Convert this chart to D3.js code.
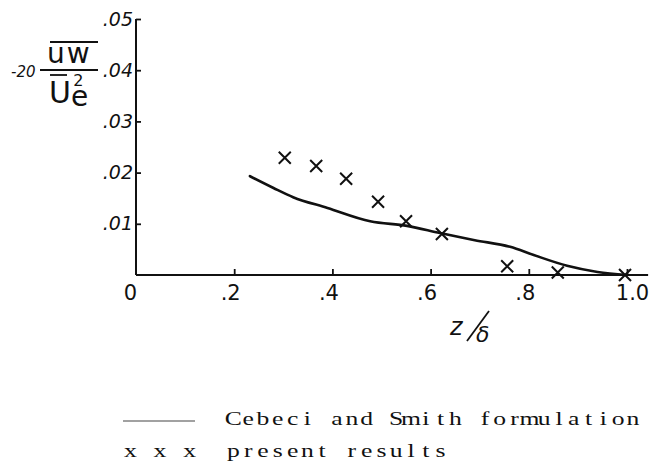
<!DOCTYPE html>
<html>
<head>
<meta charset="utf-8">
<script src="https://cdn.jsdelivr.net/npm/d3@7/dist/d3.min.js"></script>
<style>
  html, body { margin: 0; padding: 0; background: #fff; }
  svg { display: block; }
</style>
</head>
<body>
<script>
// Shear stress profile: -20 uw / Ue^2 against z/delta
const xTicks = [0, 0.2, 0.4, 0.6, 0.8, 1.0];
const xTickLabels = ["0", ".2", ".4", ".6", ".8", "1.0"];
const yTicks = [0.01, 0.02, 0.03, 0.04, 0.05];
const yTickLabels = [".01", ".02", ".03", ".04", ".05"];

// Cebeci and Smith formulation (solid curve)
const modelZ = [0.232, 0.28, 0.32, 0.39, 0.477, 0.552, 0.619, 0.69, 0.762, 0.81, 0.878, 0.94, 1.0];
const modelV = [0.0193, 0.0170, 0.0152, 0.0131, 0.0105, 0.0096, 0.0082, 0.0068, 0.0055, 0.0039, 0.0018, 0.0006, 0.0];

// present results (crosses)
const presZ = [0.303, 0.367, 0.428, 0.493, 0.55, 0.623, 0.756, 0.859, 0.996];
const presV = [0.0229, 0.0213, 0.0188, 0.0143, 0.0105, 0.0080, 0.0017, 0.0005, 0.0];

// legend entries
const legendKeys = ["", "x x x"];
const legendLabels = ["Cebeci and Smith formulation", "present results"];

const W = 654, H = 464;
const ink = "#111";
const svg = d3.select("body").append("svg").attr("width", W).attr("height", H)
  .style("background", "#fff");

const x = d3.scaleLinear().domain([0, 1]).range([136, 627]);
const y = d3.scaleLinear().domain([0, 0.05]).range([275, 19]);

const handFont = "'DejaVu Sans', sans-serif";

// axis lines
svg.append("line").attr("x1", x(0)).attr("x2", x(0)).attr("y1", y(0)).attr("y2", y(0.05))
  .attr("stroke", ink).attr("stroke-width", 2);
svg.append("line").attr("x1", x(0)).attr("x2", x(1.043)).attr("y1", y(0)).attr("y2", y(0))
  .attr("stroke", ink).attr("stroke-width", 2);

// y axis ticks and labels
const yAxis = d3.axisLeft(y).tickValues(yTicks)
  .tickFormat((d, i) => yTickLabels[i]).tickSize(-5).tickSizeOuter(0).tickPadding(3);
const gy = svg.append("g").attr("transform", `translate(${x(0)},0)`).call(yAxis);
gy.select(".domain").remove();
gy.selectAll(".tick line").attr("stroke", ink).attr("stroke-width", 1.8);
gy.selectAll(".tick text").attr("fill", ink).style("font-family", handFont)
  .style("font-size", "19px").attr("font-style", "italic");

// x axis ticks and labels
const xAxis = d3.axisBottom(x).tickValues(xTicks)
  .tickFormat((d, i) => xTickLabels[i]).tickSize(-6).tickSizeOuter(0).tickPadding(10);
const gx = svg.append("g").attr("transform", `translate(0,${y(0)})`).call(xAxis);
gx.select(".domain").remove();
gx.selectAll(".tick line").attr("stroke", ink).attr("stroke-width", 1.8)
  .filter(d => d === 0).remove();
gx.selectAll(".tick text").attr("fill", ink).style("font-family", handFont)
  .style("font-size", "21px").attr("x", d => (d === 0 ? -6 : (d === 1 ? 5 : -4)));

// model curve
const line = d3.line().x(d => x(d[0])).y(d => y(d[1])).curve(d3.curveMonotoneX);
svg.append("path").datum(modelZ.map((z, i) => [z, modelV[i]]))
  .attr("d", line).attr("fill", "none").attr("stroke", ink).attr("stroke-width", 2.6)
  .attr("stroke-linecap", "round");

// crosses
const r = 6;
svg.append("g").selectAll("path").data(presZ.map((z, i) => [z, presV[i]])).join("path")
  .attr("d", d => {
    const cx = x(d[0]), cy = y(d[1]);
    return `M${cx - r},${cy - r}L${cx + r},${cy + r}M${cx + r},${cy - r}L${cx - r},${cy + r}`;
  })
  .attr("stroke", ink).attr("stroke-width", 2).attr("fill", "none");

// y axis title: -20 (uw overbar) / (Ue overbar)^2
const yt = svg.append("g").attr("fill", ink).style("font-family", handFont);
yt.append("text").attr("x", 11).attr("y", 77).style("font-size", "15px").attr("font-style", "italic").text("-20");
yt.append("text").attr("x", 47).attr("y", 63).style("font-size", "28px").attr("letter-spacing", 2).text("uw");
yt.append("line").attr("x1", 50).attr("x2", 98).attr("y1", 42).attr("y2", 42).attr("stroke", ink).attr("stroke-width", 1.8);
yt.append("line").attr("x1", 40).attr("x2", 98).attr("y1", 70).attr("y2", 70).attr("stroke", ink).attr("stroke-width", 1.8);
yt.append("line").attr("x1", 50).attr("x2", 67).attr("y1", 75).attr("y2", 75).attr("stroke", ink).attr("stroke-width", 1.8);
const ue = yt.append("text").attr("x", 49).attr("y", 103).style("font-size", "30px");
ue.append("tspan").text("U");
ue.append("tspan").attr("dy", 3).style("font-size", "28px").text("e");
ue.append("tspan").attr("dx", -15).attr("dy", -20).style("font-size", "16px").text("2");

// x axis title: z / delta
const xt = svg.append("g").attr("fill", ink).style("font-family", handFont);
xt.append("text").attr("x", 450).attr("y", 335).style("font-size", "24px").attr("font-style", "italic").text("z");
xt.append("line").attr("x1", 489).attr("y1", 311).attr("x2", 467).attr("y2", 341)
  .attr("stroke", ink).attr("stroke-width", 1.8);
xt.append("text").attr("x", 476).attr("y", 342).style("font-size", "22px").attr("font-style", "italic").text("δ");

// legend, typewriter style: one widened serif character per fixed-width cell
const cell = 14.8, stretch = 1.35;
const typeFont = "'Liberation Serif', 'Times New Roman', serif";
const cellCenters = s => Array.from(s, (c, i) => ((cell * (i + 0.5)) / stretch).toFixed(2)).join(" ");
const rowsY = [425, 457];
svg.append("line").attr("x1", 123).attr("x2", 195).attr("y1", 421).attr("y2", 421)
  .attr("stroke", "#444").attr("stroke-width", 1.2);
const leg = svg.append("g").attr("fill", ink).style("font-family", typeFont).style("font-size", "19px")
  .attr("text-anchor", "middle");
const typeRow = (x0, yb, s) => leg.append("text")
  .attr("transform", `translate(${x0},${yb}) scale(${stretch},1)`)
  .attr("x", cellCenters(s)).attr("y", 0).text(s);
legendKeys.forEach((k, i) => {
  if (k) typeRow(123, rowsY[i], k);
  typeRow(226, rowsY[i], legendLabels[i]);
});
</script>
</body>
</html>
